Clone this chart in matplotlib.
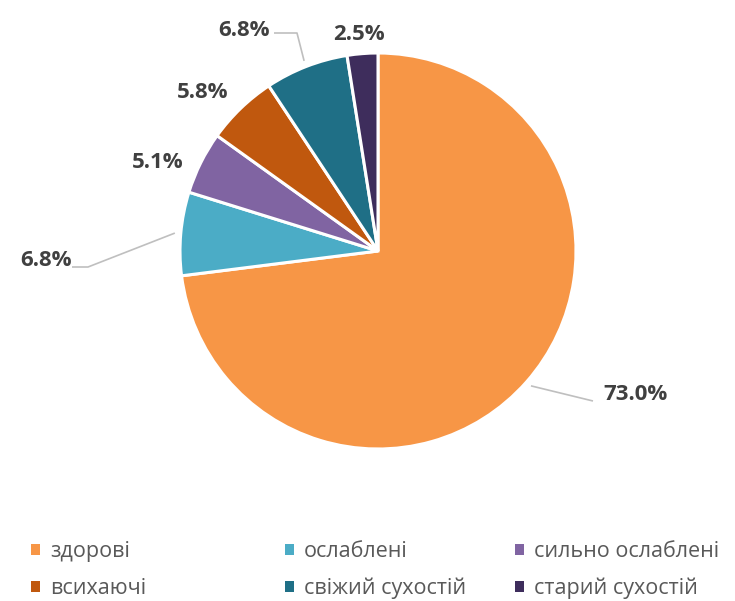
import matplotlib
matplotlib.use("Agg")
import matplotlib.pyplot as plt
import numpy as np
from matplotlib.patches import Patch

categories = ["здорові", "ослаблені", "сильно ослаблені",
              "всихаючі", "свіжий сухостій", "старий сухостій"]
shares = [73.0, 6.8, 5.1, 5.8, 6.8, 2.5]
colors = ["#F79646", "#4BACC6", "#8064A2", "#C0580E", "#1F6F86", "#3E2D5C"]

W, H = 735, 601
plt.rcParams["font.family"] = ["Open Sans", "DejaVu Sans"]

fig = plt.figure(figsize=(W / 100, H / 100), dpi=100)
ax = fig.add_axes([0, 0, 1, 1])

cx, cy, r = 378, H - 251, 198
wedges, _ = ax.pie(shares, colors=colors, startangle=90, counterclock=False,
                   center=(cx, cy), radius=r, frame=True,
                   wedgeprops=dict(edgecolor="white", linewidth=2.2))
ax.set_xlim(0, W)
ax.set_ylim(0, H)
ax.set_aspect("equal")
ax.axis("off")

# label layout (pixel positions in the picture, y from top), optional elbow
label_pos = [(636, 394), (46, 260), (158, 163), (203, 93), (244, 30), (359, 35)]
elbows = [(593, 401), (88, 267), None, None, (297, 33), None]
line_end = [(593, 401), (72, 267), None, None, (274, 33), None]

for i, w in enumerate(wedges):
    ax.text(label_pos[i][0], H - label_pos[i][1], f"{shares[i]:.1f}%",
            ha="center", va="center", fontsize=16, fontweight="bold",
            color="#404040")
    if elbows[i] is None:
        continue
    mid = np.deg2rad((w.theta1 + w.theta2) / 2)
    x0 = cx + 1.03 * r * np.cos(mid)
    y0 = cy + 1.03 * r * np.sin(mid)
    ex, ey = elbows[i]
    lx, ly = line_end[i]
    ax.plot([x0, ex, lx], [y0, H - ey, H - ly], color="#BFBFBF", lw=1.2,
            solid_capstyle="butt")

# legend, three columns of two rows
order = [[0, 3], [1, 4], [2, 5]]
col_x = [0.028, 0.373, 0.686]
for k, idx in enumerate(order):
    handles = [Patch(facecolor=colors[j], edgecolor="none") for j in idx]
    fig.legend(handles, [categories[j] for j in idx], loc="upper left",
               bbox_to_anchor=(col_x[k], 0.118), frameon=False, fontsize=15.5,
               labelcolor="#595959", handlelength=0.42, handleheight=0.42,
               handletextpad=0.45, labelspacing=0.75, borderpad=0)

fig.savefig("out.png", dpi=100, facecolor="white")
